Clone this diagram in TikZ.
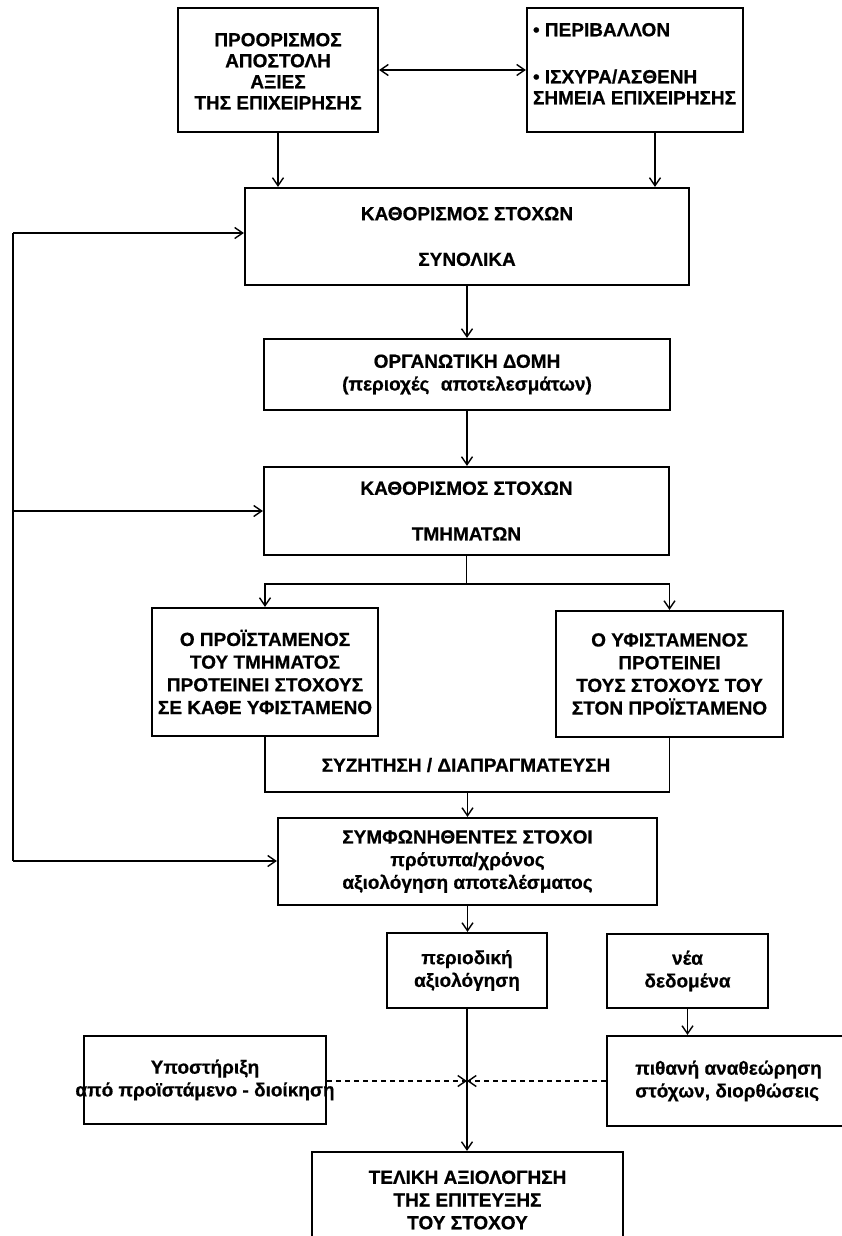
\documentclass[tikz,border=0pt]{standalone}
\usepackage{fontspec}
\setmainfont{Liberation Sans}[BoldFeatures={FakeBold=0.6}]
\usetikzlibrary{arrows.meta,calc}

\begin{document}
\begin{tikzpicture}[x=1pt,y=-1pt,
  txt/.style={font=\fontsize{19}{22.7}\selectfont\bfseries, align=center, inner sep=0pt},
  box/.style={txt, draw, line width=2.2pt},
  topbox/.style={box, font=\fontsize{19}{21}\selectfont\bfseries},
  arr/.style={line width=1.4pt, -{Straight Barb[length=8pt,width=11pt]}},
  dblarr/.style={line width=1.4pt, {Straight Barb[length=8pt,width=11pt]}-{Straight Barb[length=8pt,width=11pt]}},
  dasharr/.style={arr, dash pattern=on 5pt off 4pt},
  plain/.style={line width=1.5pt}
]
\useasboundingbox (0,0) rectangle (842,1236);
\clip (0,0) rectangle (842,1236);
\fill[white] (0,0) rectangle (842,1236);

% top row
\node[topbox, minimum width=200pt, minimum height=124pt] (A) at (278,70)
  {\parbox[c][124pt][t]{190pt}{\centering\vspace*{25pt}ΠΡΟΟΡΙΣΜΟΣ\\ΑΠΟΣΤΟΛΗ\\ΑΞΙΕΣ\\ΤΗΣ ΕΠΙΧΕΙΡΗΣΗΣ}};
\node[topbox, minimum width=216pt, minimum height=124pt] (B) at (635,70)
  {\parbox[c][124pt][t]{204pt}{\raggedright\vspace*{15pt}• ΠΕΡΙΒΑΛΛΟΝ\\[26pt]• ΙΣΧΥΡΑ/ΑΣΘΕΝΗ\\\mbox{ΣΗΜΕΙΑ ΕΠΙΧΕΙΡΗΣΗΣ}}};

% main column
\node[box, minimum width=444pt, minimum height=97pt] (C) at (467,236.5)
  {ΚΑΘΟΡΙΣΜΟΣ ΣΤΟΧΩΝ\\[23pt]ΣΥΝΟΛΙΚΑ};
\node[box, minimum width=406pt, minimum height=71pt] (D) at (467,374.5)
  {ΟΡΓΑΝΩΤΙΚΗ ΔΟΜΗ\\(περιοχές\hspace{0.6em}αποτελεσμάτων)};
\node[box, minimum width=405pt, minimum height=88pt] (E) at (466.5,511)
  {ΚΑΘΟΡΙΣΜΟΣ ΣΤΟΧΩΝ\\[23pt]ΤΜΗΜΑΤΩΝ};

\node[box, minimum width=226pt, minimum height=128pt] (F) at (265,672)
  {Ο ΠΡΟΪΣΤΑΜΕΝΟΣ\\ΤΟΥ ΤΜΗΜΑΤΟΣ\\ΠΡΟΤΕΙΝΕΙ ΣΤΟΧΟΥΣ\\ΣΕ ΚΑΘΕ ΥΦΙΣΤΑΜΕΝΟ};
\node[box, minimum width=227pt, minimum height=126pt] (G) at (669.5,674)
  {Ο ΥΦΙΣΤΑΜΕΝΟΣ\\ΠΡΟΤΕΙΝΕΙ\\ΤΟΥΣ ΣΤΟΧΟΥΣ ΤΟΥ\\ΣΤΟΝ ΠΡΟΪΣΤΑΜΕΝΟ};
\node[txt] (S) at (466,765) {ΣΥΖΗΤΗΣΗ / ΔΙΑΠΡΑΓΜΑΤΕΥΣΗ};

\node[box, minimum width=379pt, minimum height=87pt] (H) at (467.5,861.5)
  {ΣΥΜΦΩΝΗΘΕΝΤΕΣ ΣΤΟΧΟΙ\\πρότυπα/χρόνος\\αξιολόγηση αποτελέσματος};

\node[box, minimum width=160pt, minimum height=75pt] (I) at (467,970.5)
  {περιοδική\\αξιολόγηση};
\node[box, minimum width=161pt, minimum height=74pt] (N) at (687.5,971)
  {νέα\\δεδομένα};

\node[box, minimum width=242pt, minimum height=88pt] (K) at (205,1080)
  {\makebox[0pt]{Υποστήριξη}\\\makebox[0pt]{από προϊστάμενο - διοίκηση}};
\node[box, align=left, minimum width=243pt, minimum height=90pt] (P) at (728.5,1081)
  {πιθανή αναθεώρηση\\στόχων, διορθώσεις};

\node[box, minimum width=311pt, minimum height=96pt] (J) at (467.5,1200)
  {ΤΕΛΙΚΗ ΑΞΙΟΛΟΓΗΣΗ\\ΤΗΣ ΕΠΙΤΕΥΞΗΣ\\ΤΟΥ ΣΤΟΧΟΥ};

% connectors: top row
\draw[dblarr] (A.east) -- (B.west);
\draw[arr] (A.south) -- (A.south |- C.north);
\coordinate (Bout) at ($(B.south)+(20,0)$);
\draw[arr] (Bout) -- (Bout |- C.north);

% main column
\draw[arr] (C.south) -- (C.south |- D.north);
\draw[arr] (D.south) -- (D.south |- E.north);

% split to the two proposal boxes
\coordinate (split) at ($(E.south)+(0,28)$);
\draw[plain] (E.south) -- (split);
\draw[arr] (split) -| (F.north);
\draw[arr] (split) -| (G.north);

% discussion bracket
\coordinate (brk) at ($(F.south)+(0,55)$);
\draw[plain] (F.south) -- (brk) -- (brk -| G.south) -- (G.south);
\coordinate (brkmid) at (brk -| H.north);
\draw[arr] (brkmid) -- (H.north);

% feedback bus on the left
\coordinate (fbC) at (13,233);
\coordinate (fbE) at (13,511);
\coordinate (fbH) at (13,861);
\draw[plain] (fbC) -- (fbH);
\draw[arr] (fbC) -- (fbC -| C.west);
\draw[arr] (fbE) -- (fbE -| E.west);
\draw[arr] (fbH) -- (fbH -| H.west);

% evaluation chain
\draw[arr] (H.south) -- (H.south |- I.north);
\draw[arr] (I.south) -- (I.south |- J.north);
\draw[arr] (N.south) -- (N.south |- P.north);

% dashed inputs meeting on the evaluation line
\coordinate (meet) at (I.south |- 0,1081);
\draw[dasharr] (K.east |- meet) -- (meet);
\draw[dasharr] (P.west |- meet) -- (meet);
\end{tikzpicture}
\end{document}
